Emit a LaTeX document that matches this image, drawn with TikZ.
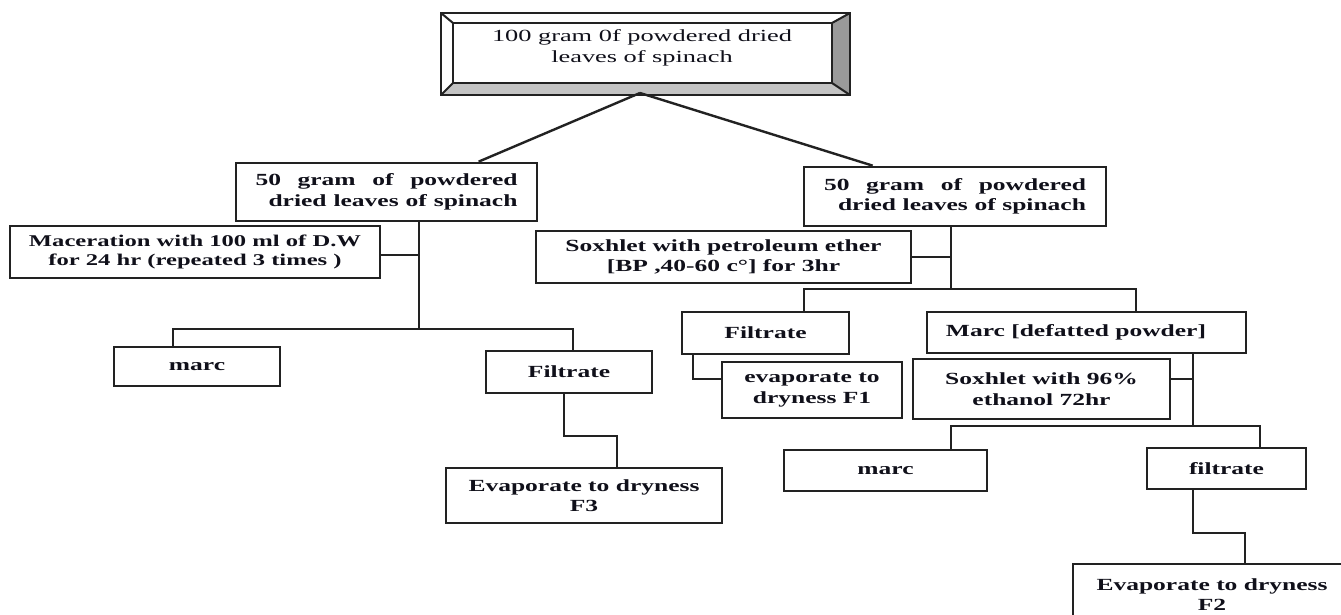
\documentclass[tikz,border=0pt]{standalone}
\usepackage{fontspec}
\setmainfont{Liberation Serif}[FakeStretch=1.5]
\newfontfamily\topfont{Liberation Serif}[FakeStretch=1.55]
\definecolor{linec}{HTML}{222222}
\definecolor{txt}{HTML}{10101A}
\definecolor{bevR}{HTML}{9A9A9A}
\definecolor{bevB}{HTML}{C4C4C4}
\begin{document}
\begin{tikzpicture}[x=1pt,y=-1pt,
  box/.style={draw=linec, line width=2.7pt, rectangle, inner sep=0pt, text=txt,
    font=\bfseries\fontsize{17}{20.5}\selectfont, align=center},
  sz/.style 2 args={minimum width=#1pt, minimum height=#2pt},
  conn/.style={draw=linec, line width=2.4pt}]
\useasboundingbox (0,0) rectangle (1341,615);
\clip (0,0) rectangle (1341,615);
\fill[white] (0,0) rectangle (1341,615);

% top bevelled frame
\fill[white] (441,13) rectangle (850,95);
\fill[bevB] (441,95) -- (850,95) -- (832,83) -- (453,83) -- cycle;
\fill[bevR] (850,13) -- (850,95) -- (832,83) -- (832,23) -- cycle;
\draw[linec, line width=2.7pt] (441,13) rectangle (850,95);
\draw[linec, line width=2.7pt] (453,23) rectangle (832,83);
\draw[linec, line width=2pt] (441,13) -- (453,23) (850,13) -- (832,23)
  (441,95) -- (453,83) (850,95) -- (832,83);
\node[text=txt, font=\topfont\fontsize{17}{21}\selectfont, align=center] (top) at (642,48)
  {100 gram 0f powdered dried\\leaves of spinach};
\coordinate (apex) at (640,93);

% boxes
\node[box, sz={301}{58}] (L50) at (386.5,192)
  {\makebox[262pt][s]{50 gram of powdered}\\\makebox[262pt][r]{\makebox[249pt][s]{dried leaves of spinach}}};
\node[box, sz={370}{52}, font=\bfseries\fontsize{16.4}{19.5}\selectfont] (mac) at (195,252)
  {Maceration with 100 ml of D.W\\for 24 hr (repeated 3 times )};
\node[box, sz={166}{39}] (lmarc) at (197,366.5) {marc};
\node[box, sz={166}{42}] (lfil) at (569,372) {Filtrate};
\node[box, sz={276}{55}] (F3) at (584,495.5) {Evaporate to dryness\\F3};

\node[box, sz={302}{59}] (R50) at (955,196.5)
  {\makebox[262pt][s]{50 gram of powdered}\\\makebox[262pt][r]{\makebox[248pt][s]{dried leaves of spinach}}};
\node[box, sz={375}{52}] (sox1) at (723.5,257)
  {Soxhlet with petroleum ether\\{[}BP ,40-60 c\textdegree{]} for 3hr};
\node[box, sz={167}{42}] (rfil) at (765.5,333) {Filtrate};
\node[box, sz={180}{56}] (F1) at (812,390) {evaporate to\\dryness F1};
\node[box, sz={319}{41}] (rmarcD) at (1086.5,332.5) {Marc [defatted powder]\hspace*{21pt}};
\node[box, sz={257}{60}] (sox2) at (1041.5,389) {Soxhlet with 96\%\\ethanol 72hr};
\node[box, sz={203}{41}] (rmarc) at (885.5,470.5) {marc};
\node[box, sz={159}{41}] (rfil2) at (1226.5,468.5) {filtrate};
\node[box, sz={278}{61}] (F2) at (1212,594.5) {Evaporate to dryness\\F2};

% connectors from top
\draw[conn] (apex) -- ([xshift=244pt]L50.north west);
\draw[conn] (apex) -- ([xshift=70pt]R50.north west);

% left branch
\coordinate (lj) at (419,329);
\coordinate (lb1) at (173,329);
\coordinate (lb2) at (573,329);
\draw[conn] (lj |- L50.south) -- (lj);
\draw[conn] ([yshift=-3pt]mac.east) -- ([yshift=-3pt]mac.east -| lj);
\draw[conn] (lmarc.north -| lb1) -- (lb1) -- (lb2) -- (lfil.north -| lb2);
\coordinate (f3a) at (564,436);
\coordinate (f3b) at (617,436);
\draw[conn] (lfil.south -| f3a) -- (f3a) -- (f3b) -- (F3.north -| f3b);

% right branch
\coordinate (rj) at (951,289);
\coordinate (rb1) at (804,289);
\coordinate (rb2) at (1136,289);
\draw[conn] (rj |- R50.south) -- (rj);
\draw[conn] (sox1.east) -- (sox1.east -| rj);
\draw[conn] (rfil.north -| rb1) -- (rb1) -- (rb2) -- (rmarcD.north -| rb2);
\coordinate (f1a) at (693,379);
\draw[conn] (rfil.south -| f1a) -- (f1a) -- (f1a -| F1.west);

\coordinate (mj) at (1193,426);
\coordinate (mb1) at (951,426);
\coordinate (mb2) at (1260,426);
\draw[conn] (mj |- rmarcD.south) -- (mj);
\draw[conn] ([yshift=10pt]sox2.east) -- ([yshift=10pt]sox2.east -| mj);
\draw[conn] (rmarc.north -| mb1) -- (mb1) -- (mb2) -- (rfil2.north -| mb2);
\coordinate (f2a) at (1193,533);
\coordinate (f2b) at (1245,533);
\draw[conn] (rfil2.south -| f2a) -- (f2a) -- (f2b) -- (F2.north -| f2b);
\end{tikzpicture}
\end{document}
